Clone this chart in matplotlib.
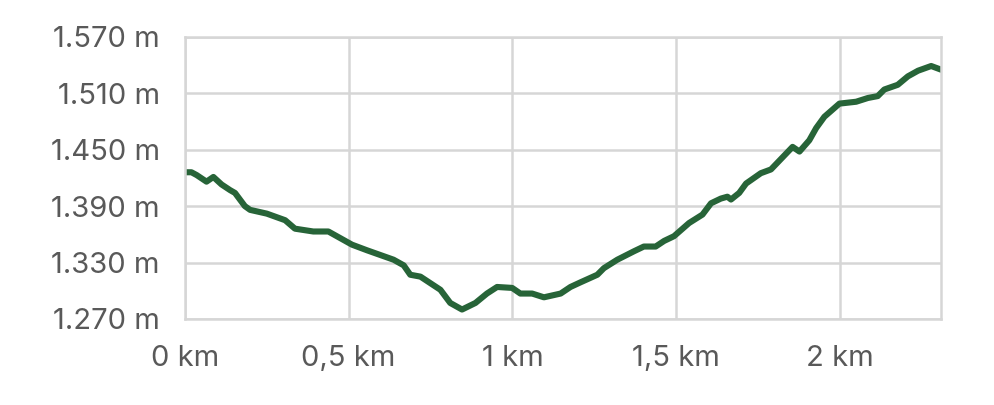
import matplotlib.pyplot as plt

# elevation profile
dist_km = [0.0, 0.02, 0.036, 0.066, 0.087, 0.112, 0.138, 0.153, 0.183, 0.199,
           0.25, 0.306, 0.336, 0.392, 0.438, 0.51, 0.556, 0.637, 0.668, 0.688,
           0.719, 0.78, 0.81, 0.846, 0.887, 0.922, 0.953, 0.999, 1.024, 1.06,
           1.096, 1.147, 1.177, 1.208, 1.259, 1.279, 1.32, 1.371, 1.401, 1.437,
           1.463, 1.493, 1.539, 1.58, 1.606, 1.636, 1.656, 1.667, 1.692, 1.713,
           1.758, 1.789, 1.855, 1.876, 1.906, 1.927, 1.952, 1.998, 2.049, 2.085,
           2.115, 2.135, 2.176, 2.207, 2.238, 2.278, 2.309]
elev_m = [1426, 1426, 1423, 1416, 1421, 1413, 1407, 1404, 1390, 1386,
          1382, 1375, 1366, 1363, 1363, 1349, 1343, 1333, 1327, 1317,
          1315, 1301, 1287, 1280, 1287, 1297, 1304, 1303, 1297, 1297,
          1293, 1297, 1304, 1309, 1317, 1324, 1333, 1342, 1347, 1347,
          1353, 1358, 1372, 1381, 1393, 1398, 1400, 1397, 1404, 1414,
          1425, 1429, 1453, 1448, 1460, 1473, 1485, 1499, 1501, 1505,
          1507, 1514, 1519, 1528, 1534, 1539, 1535]

x_ticks = [0, 0.5, 1, 1.5, 2]
x_labels = ["0 km", "0,5 km", "1 km", "1,5 km", "2 km"]
y_ticks = [1270, 1330, 1390, 1450, 1510, 1570]
y_labels = ["1.270 m", "1.330 m", "1.390 m", "1.450 m", "1.510 m", "1.570 m"]

plt.rcParams['font.family'] = ['Inter', 'DejaVu Sans']

fig = plt.figure(figsize=(9.94, 4.05), dpi=100)
ax = fig.add_axes([0.186, 0.2125, 0.761, 0.6965])

ax.plot(dist_km, elev_m, color='#276438', lw=4.4, solid_capstyle='round', solid_joinstyle='round')

ax.set_xlim(0, 2.309)
ax.set_ylim(1270, 1570)
ax.set_xticks(x_ticks)
ax.set_xticklabels(x_labels)
ax.set_yticks(y_ticks)
ax.set_yticklabels(y_labels)
ax.tick_params(length=0, labelsize=21, labelcolor='#595959')
ax.tick_params(axis='y', pad=18)
ax.tick_params(axis='x', pad=19)
ax.grid(True, color='#d6d6d6', lw=1.8)
ax.set_axisbelow(True)
for s in ax.spines.values():
    s.set_color('#d6d6d6')
    s.set_linewidth(1.8)

fig.savefig('out.png', dpi=100)
